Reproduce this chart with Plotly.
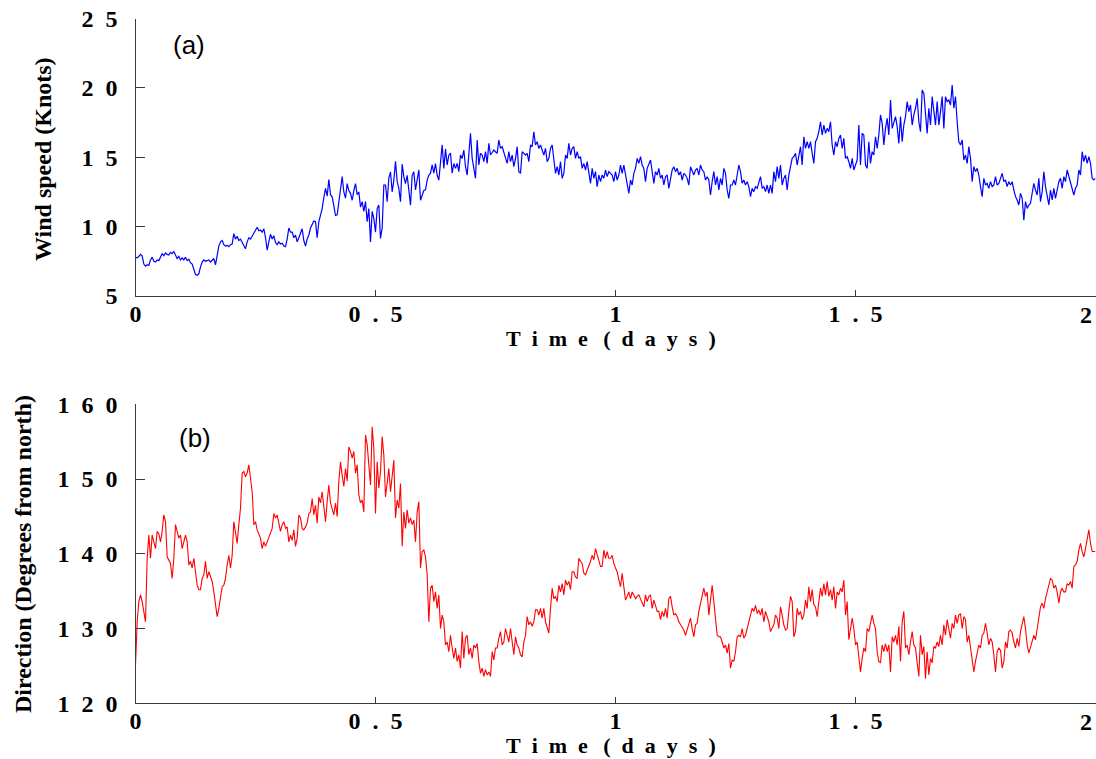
import numpy as np
import plotly.graph_objects as go

# ---------------- data ----------------
# samples every 5 minutes (1/288 day) over 2 days
SAMPLE_DAYS = 1.0 / 288.0

speed_knots = [
    7.8, 7.75, 7.85, 8.0, 7.9, 7.3, 7.15, 7.25, 7.2, 7.6, 7.8, 7.5, 7.45, 7.6, 7.55, 7.85, 8.05, 7.9, 8.1, 8.0,
    7.95, 8.15, 8.05, 8.2, 7.95, 7.7, 7.85, 7.6, 7.75, 7.6, 7.8, 7.55, 7.65, 7.4, 7.3, 6.9, 6.55, 6.5, 6.6, 7.1,
    7.45, 7.6, 7.5, 7.55, 7.6, 7.45, 7.6, 7.7, 7.25,
    8.0, 8.6, 8.9, 9.0, 8.7, 8.6, 8.65, 8.55, 8.7, 8.75,
    9.5, 9.1, 9.3, 9.0, 9.1, 8.9, 8.6, 8.4, 8.9, 9.2,
    9.1, 9.3, 9.5, 9.7, 9.95, 9.7, 9.75, 9.6, 9.85, 9.2,
    8.3, 8.9, 9.45, 9.1, 9.35, 8.85, 8.7, 8.9, 8.75, 8.8,
    8.6, 8.55, 9.1, 9.9, 9.6, 9.6, 9.2, 9.4, 8.9, 9.2,
    9.6, 9.85, 9.0, 8.6, 9.1, 9.4, 9.9, 10.1, 10.4, 10.35,
    9.2, 10.35, 10.9, 11.3, 12.1, 12.75, 12.2, 13.4, 12.3, 12.15,
    11.5, 10.8, 10.85, 11.8, 12.6, 13.6, 12.5, 12.05, 13.1, 12.6,
    12.4, 11.9, 12.6, 13.1, 12.3, 12.5, 11.4, 11.8, 11.1, 11.8,
    10.35, 11.3, 8.9, 11.1, 10.6, 9.6, 11.3, 11.55, 9.15, 9.9,
    13.0, 13.0, 11.8, 13.5, 13.95, 12.5, 13.35, 14.7, 13.25, 12.75,
    11.8, 14.5, 13.6, 13.1, 13.7, 12.4, 11.55, 13.7, 13.95, 12.65,
    13.4, 14.1, 11.9, 12.3, 12.6, 12.65, 13.35, 13.7, 13.85, 14.45,
    13.85, 14.55, 13.7, 13.35, 14.45, 15.9, 14.2, 15.6, 14.45, 15.15,
    15.3, 13.85, 14.55,
    14.2, 14.56, 13.96, 15.16, 14.92, 15.52, 14.32, 13.72, 15.16, 16.72,
    14.92, 14.2, 13.48, 16.24, 14.44, 15.28, 15.16, 14.68, 15.4, 14.56,
    16.0, 15.16, 15.4, 15.52, 15.4, 15.28, 16.24, 15.64, 15.76, 15.4,
    15.04, 14.56, 15.4, 14.68, 15.16, 14.32, 14.92, 15.76, 13.96, 13.84,
    15.4, 15.28, 15.16, 15.28, 14.68, 15.88, 15.76, 16.84, 15.88, 16.12,
    15.64, 15.88, 15.52, 15.16, 15.64, 14.68, 14.92, 15.64, 15.88, 14.92,
    13.84, 14.32, 13.72, 14.68, 13.48, 13.84, 15.16, 14.92, 16.0, 15.16,
    15.64, 15.76, 14.92, 15.4, 14.92, 15.04, 14.2, 14.56, 14.08, 14.68,
    13.96, 13.12, 14.2, 13.48, 13.96, 12.88, 13.72, 13.24, 13.72, 13.48,
    14.08, 13.6, 13.96, 13.84, 13.72, 13.24, 13.96, 13.36, 13.72, 14.44,
    13.84, 14.44, 13.72, 13.24, 12.4, 13.36, 13.0, 13.84, 14.2, 14.92,
    14.56, 15.04, 14.44, 14.2, 13.24, 14.2, 14.56, 14.8, 13.96, 13.12,
    13.96, 13.72, 14.2, 13.48, 13.72, 13.0, 13.6, 13.72, 12.76, 13.6,
    14.08, 14.32, 13.96, 14.2, 13.72, 13.96, 13.36, 13.84, 13.72, 13.48,
    13.0, 14.32, 13.96, 13.72, 14.08, 14.2, 13.72, 14.44, 14.08, 13.96,
    13.36, 13.6, 13.36, 12.28, 13.24, 13.96, 13.0, 13.6, 12.64, 13.48,
    13.0, 14.2, 13.84, 12.64, 12.04, 13.0, 13.0, 13.36, 13.0, 13.72,
    14.44, 13.96, 13.12, 13.36, 13.0, 13.24, 12.88, 12.16, 12.76, 12.52,
    12.88, 12.76, 13.24, 13.6, 12.76, 12.88, 12.52, 13.0, 12.4, 13.0,
    12.4, 13.96,
    13.24, 14.32, 13.48, 14.44, 13.0, 13.48, 13.72, 12.64, 13.72, 14.44,
    14.92, 15.04, 15.28, 14.44, 15.04, 15.76, 14.44, 16.48, 15.64, 16.12,
    15.64, 16.12, 15.28, 14.56, 16.12, 16.36, 16.84, 17.56, 16.6, 17.32,
    16.72, 17.08, 16.84, 17.56, 15.88, 15.16, 16.12, 15.76, 16.36, 16.6,
    15.64, 16.36, 14.92, 15.04, 14.68, 14.2, 14.92, 14.08, 14.44, 14.8,
    17.32, 14.44, 16.72, 16.6, 14.44, 14.2, 16.12, 14.56, 15.4, 15.16,
    16.48, 15.64, 16.6, 18.05, 17.44, 15.88, 17.08, 17.8, 16.6, 19.13,
    17.08, 17.56, 17.93, 17.2, 16.0, 17.93, 16.12, 17.32, 17.93, 19.01,
    18.29, 18.77, 17.32, 18.05, 18.53, 19.25, 17.56, 16.84, 19.85, 19.61,
    18.05, 16.72, 18.53, 17.32, 19.37, 18.29, 17.32, 19.01, 17.32, 18.29,
    19.37, 17.08, 19.37, 19.01, 19.13, 18.77, 20.21, 18.53, 19.37, 17.56,
    16.12, 15.88, 16.24, 14.8, 15.16, 14.56, 15.76, 14.92, 13.24, 14.32,
    13.96, 14.2, 13.72, 12.88, 12.16, 13.48, 13.0, 13.12, 12.76, 13.24,
    12.88, 13.0, 13.6, 13.0, 13.12, 13.48, 13.84, 13.24, 13.36, 12.88,
    13.24, 13.0, 13.24, 12.64, 12.16, 11.92, 11.56, 12.4, 12.04, 10.47,
    11.8, 11.31, 11.56, 11.68, 12.28, 13.12, 12.64, 12.28, 13.48, 11.8,
    12.52, 13.96, 12.88, 12.04, 11.56, 12.64, 11.92, 12.76, 12.04, 12.64,
    13.24, 13.48, 12.76, 13.6, 13.24, 14.08, 13.6, 13.24, 12.76, 12.28,
    12.76, 13.0, 14.08, 13.72, 15.4, 14.68, 15.16, 14.56, 15.04, 14.56,
    13.48, 13.36, 13.48,
]

direction_deg = [
    125.1, 130.9, 133.6, 134.5, 133.6, 132.3, 130.9, 139.4, 142.5, 139.4,
    142.5, 141.6, 140.7, 143.0, 142.7, 141.6, 143.0, 145.2, 144.3, 139.6,
    139.2, 138.7, 136.7, 139.4, 143.9, 143.0, 142.1, 142.5, 140.7, 141.6,
    142.5, 141.6, 138.5, 139.0, 138.1, 139.4, 137.6, 135.8, 135.2, 135.2,
    136.7, 137.2, 139.0, 136.7, 137.6, 136.9, 136.3, 134.9, 133.4, 131.6,
    132.7, 134.5, 135.6, 135.8, 136.7, 138.5, 139.8, 138.1, 139.8, 144.3,
    143.0, 141.4, 143.9, 146.1, 150.8, 151.0, 150.3, 150.8, 151.9, 150.3,
    148.3, 143.9, 144.3, 143.2, 142.5, 142.1, 140.7, 141.6, 141.0, 141.6,
    142.1, 142.7, 143.4, 145.4, 144.8, 145.2, 144.3, 143.0, 143.9, 144.3,
    143.4, 143.6, 141.6, 142.5, 141.8, 143.2, 141.0, 142.1, 145.2, 144.8,
    143.4, 143.2, 143.6, 144.1, 145.4, 145.6, 147.4, 145.2, 146.5, 144.1,
    147.6, 146.8, 148.3, 146.1, 144.3, 147.0, 149.2, 146.8, 146.1, 145.2,
    146.8, 145.0, 149.7, 152.3, 150.5, 149.0, 151.4, 149.7, 154.3, 153.7,
    152.8, 153.7, 150.8, 151.9, 147.9, 146.8, 147.2, 145.6, 155.9, 154.6,
    151.9, 149.2, 157.0, 154.1, 145.4, 152.3, 148.8, 151.0, 155.7, 153.2,
    147.6, 149.7, 151.4, 148.3, 150.8, 152.5, 144.8, 147.2, 146.1, 149.4,
    141.0, 145.6, 143.4, 145.9, 144.1, 144.8, 143.9, 144.5, 141.6, 145.6,
    147.0, 138.1, 140.3, 140.5, 139.6, 137.2, 130.9, 135.4, 135.8, 133.6,
    134.9, 132.7, 134.5, 130.0, 131.8, 130.9, 127.8, 128.2, 126.9, 129.1,
    127.4, 126.0,
    127.4, 125.6, 126.5, 124.7, 129.6, 126.0, 128.7, 129.1, 126.5, 127.4,
    126.0, 127.8, 127.4, 128.0, 125.6, 124.0, 124.7, 123.6, 124.5, 123.8,
    124.2, 123.6, 126.9, 125.8, 127.4, 127.4, 128.7, 129.6, 127.8, 128.2,
    130.0, 129.1, 128.2, 130.0, 127.8, 126.5, 128.9, 127.8, 127.4, 126.5,
    126.2, 128.2, 129.1, 131.6, 130.5, 130.9, 130.3, 130.9, 132.5, 132.5,
    131.8, 132.7, 131.4, 132.7, 130.9, 130.0, 129.4, 132.7, 135.4, 134.0,
    134.3, 133.6, 135.8, 134.9, 136.0, 134.5, 136.5, 135.8, 136.3, 135.2,
    137.6, 137.6, 136.9, 136.7, 139.4, 139.0, 138.7, 137.4, 137.2, 137.8,
    138.3, 139.0, 139.8, 139.2, 140.7, 139.8, 139.2, 138.3, 138.3, 140.5,
    139.4, 140.3, 139.4, 139.4, 139.8, 138.7, 138.1, 137.6, 136.5, 135.6,
    137.4, 135.8, 133.8, 134.3, 134.9, 134.0, 134.9, 134.5, 134.0, 134.3,
    134.5, 134.0, 133.4, 132.9, 134.5, 133.6, 134.3, 134.5, 132.7, 133.8,
    133.1, 132.3, 132.3, 131.2, 132.3, 131.6, 132.7, 131.4, 134.0, 134.3,
    132.9, 131.8, 132.0, 131.6, 130.9, 130.5, 130.3, 129.8, 129.1, 130.0,
    130.5, 131.4, 130.0, 128.9, 130.5, 130.7, 132.3, 133.4, 134.5, 135.4,
    134.3, 134.9, 131.8, 133.6, 135.8, 133.6, 130.9, 129.1, 128.9, 128.9,
    128.2, 127.4, 127.8, 126.7, 128.0, 124.7, 125.8, 125.6, 126.9, 128.9,
    129.1, 128.9, 130.0, 128.7, 129.1, 130.0, 130.5, 131.8, 132.7, 132.3,
    133.1, 132.0, 132.5, 131.8, 132.7, 130.9, 132.3, 131.6, 130.9, 129.6,
    130.0, 130.5,
    131.8, 131.4, 130.0, 132.9, 131.8, 130.5, 129.8, 130.0, 132.3, 134.3,
    133.6, 128.9, 129.6, 132.7, 131.8, 132.3, 131.2, 131.8, 133.8, 132.7,
    135.6, 133.6, 135.2, 133.2, 132.9, 131.6, 133.6, 135.4, 134.3, 136.0,
    134.5, 136.3, 134.3, 135.2, 133.8, 135.6, 132.7, 134.9, 134.5, 135.4,
    134.9, 136.5, 131.8, 133.6, 128.5, 130.0, 131.4, 130.0, 127.8, 128.2,
    126.5, 124.2, 126.0, 127.4, 126.9, 130.0, 129.6, 130.9, 131.8, 130.7,
    130.0, 126.9, 125.6, 125.4, 127.8, 126.9, 128.0, 126.9, 127.8, 124.2,
    128.9, 128.2, 129.1, 127.8, 130.3, 125.6, 130.9, 132.3, 127.4, 127.8,
    126.5, 128.2, 129.6, 127.8, 127.4, 125.4, 123.6, 129.1, 126.5, 127.6,
    123.3, 126.9, 123.8, 126.0, 125.4, 127.6, 127.4, 128.2, 127.6, 129.1,
    127.8, 130.5, 129.1, 131.2, 129.8, 128.7, 130.7, 130.0, 131.8, 130.7,
    131.8, 132.0, 130.0, 131.6, 131.2, 128.2, 129.1, 127.4, 125.6, 124.2,
    125.6, 126.9, 127.8, 127.4, 129.1, 129.4, 130.7, 129.4, 127.8, 128.7,
    128.2, 126.5, 124.2, 126.9, 127.4, 127.1, 124.7, 125.6, 128.2, 127.4,
    129.6, 129.8, 129.4, 128.2, 127.4, 128.7, 127.6, 129.6, 130.5, 131.6,
    130.0, 127.8, 126.7, 127.4, 128.2, 129.1, 128.5, 130.0, 132.0, 132.9,
    133.4, 132.7, 134.0, 134.9, 135.8, 136.7, 136.5, 135.4, 135.8, 134.9,
    133.4, 134.9, 135.4, 134.9, 134.9, 136.0, 135.8, 136.3, 135.4, 138.3,
    138.5, 139.0, 140.5, 141.4, 140.3, 139.6, 140.7, 141.8, 143.2, 141.4,
    140.3, 140.3, 140.3,
]

x_tickvals = [0, 0.5, 1, 1.5, 2]
# the label of the last tick ("2") sits at the page edge; it is drawn as a right-aligned text below
x_ticktext = ["0", "0\u2002.\u20025", "1", "1\u2002.\u20025", ""]
x_last_label = "2"
speed_tickvals = [5, 10, 15, 20, 25]
speed_ticktext = ["5", "1\u20020", "1\u20025", "2\u20020", "2\u20025"]
dir_tickvals = [120, 130, 140, 150, 160]
dir_ticktext = ["1\u20022\u20020", "1\u20023\u20020", "1\u20024\u20020", "1\u20025\u20020", "1\u20026\u20020"]

time_title = "T\u2002i\u2002m\u2002e\u2002\u2009(\u2002d\u2002a\u2002y\u2002s\u2002)"

# ---------------- figure ----------------
W, H = 1096, 759
t_speed = np.arange(len(speed_knots)) * SAMPLE_DAYS
t_dir = np.arange(len(direction_deg)) * SAMPLE_DAYS

fig = go.Figure()
fig.add_trace(go.Scatter(x=t_speed, y=speed_knots, mode="lines",
                         line=dict(color="#0000ff", width=1.2), xaxis="x", yaxis="y",
                         showlegend=False, hoverinfo="skip"))
fig.add_trace(go.Scatter(x=t_dir, y=direction_deg, mode="lines",
                         line=dict(color="#ff0000", width=1.1), xaxis="x2", yaxis="y2",
                         showlegend=False, hoverinfo="skip"))

serif = "Liberation Serif, Times New Roman, serif"
tickfont = dict(family=serif, size=24, color="black", weight="bold")
axcol = "#3a3a3a"

xdom = [135.5 / W, 1095.5 / W]
common_x = dict(domain=xdom, range=[0, 2], tickvals=x_tickvals, ticktext=x_ticktext,
                ticks="inside", ticklen=6, tickcolor=axcol, showline=True, linecolor=axcol,
                linewidth=1.2, showgrid=False, zeroline=False, tickfont=tickfont,
                ticklabelstandoff=-4, ticklabeloverflow="allow", automargin=False)
common_y = dict(ticks="inside", ticklen=9, tickcolor=axcol, showline=True, linecolor=axcol,
                linewidth=1.2, showgrid=False, zeroline=False, tickfont=tickfont,
                ticklabelstandoff=12, ticklabeloverflow="allow", automargin=False)

fig.update_layout(
    width=W, height=H, autosize=False,
    margin=dict(l=0, r=0, t=0, b=0, pad=0, autoexpand=False),
    paper_bgcolor="white", plot_bgcolor="white",
    xaxis=dict(anchor="y", **common_x),
    yaxis=dict(anchor="x", domain=[1 - 296 / H, 1 - 18.5 / H], range=[5, 25],
               tickvals=speed_tickvals, ticktext=speed_ticktext, **common_y),
    xaxis2=dict(anchor="y2", **common_x),
    yaxis2=dict(anchor="x2", domain=[1 - 703.3 / H, 1 - 404.3 / H], range=[120, 160],
                tickvals=dir_tickvals, ticktext=dir_ticktext, **common_y),
)

title_font = dict(family=serif, size=22, color="black", weight="bold")
ytitle_font = dict(family=serif, size=24, color="black", weight="bold")
label_font = dict(family="Liberation Sans, Arial, sans-serif", size=26, color="black")

annotations = [
    dict(text=time_title, x=610.5 / W, y=1 - 338 / H, font=title_font),
    dict(text=time_title, x=611 / W, y=1 - 745 / H, font=title_font),
    dict(text="Wind speed (Knots)", x=43 / W, y=1 - 159 / H, textangle=-90, font=ytitle_font),
    dict(text="Direction (Degrees from north)", x=23 / W, y=1 - 554 / H, textangle=-90, font=ytitle_font),
    dict(text="(a)", x=189 / W, y=1 - 45 / H, font=label_font),
    dict(text="(b)", x=194.5 / W, y=1 - 438 / H, font=label_font),
]
for a in annotations:
    fig.add_annotation(xref="paper", yref="paper", showarrow=False,
                       xanchor="center", yanchor="middle", **a)

# last x tick label of each panel, right-aligned at the page edge
for yc in (315, 722):
    fig.add_annotation(xref="paper", yref="paper", showarrow=False, text=x_last_label,
                       x=1094 / W, y=1 - yc / H, xanchor="right", yanchor="middle",
                       font=tickfont)

fig.write_html("out.html")
